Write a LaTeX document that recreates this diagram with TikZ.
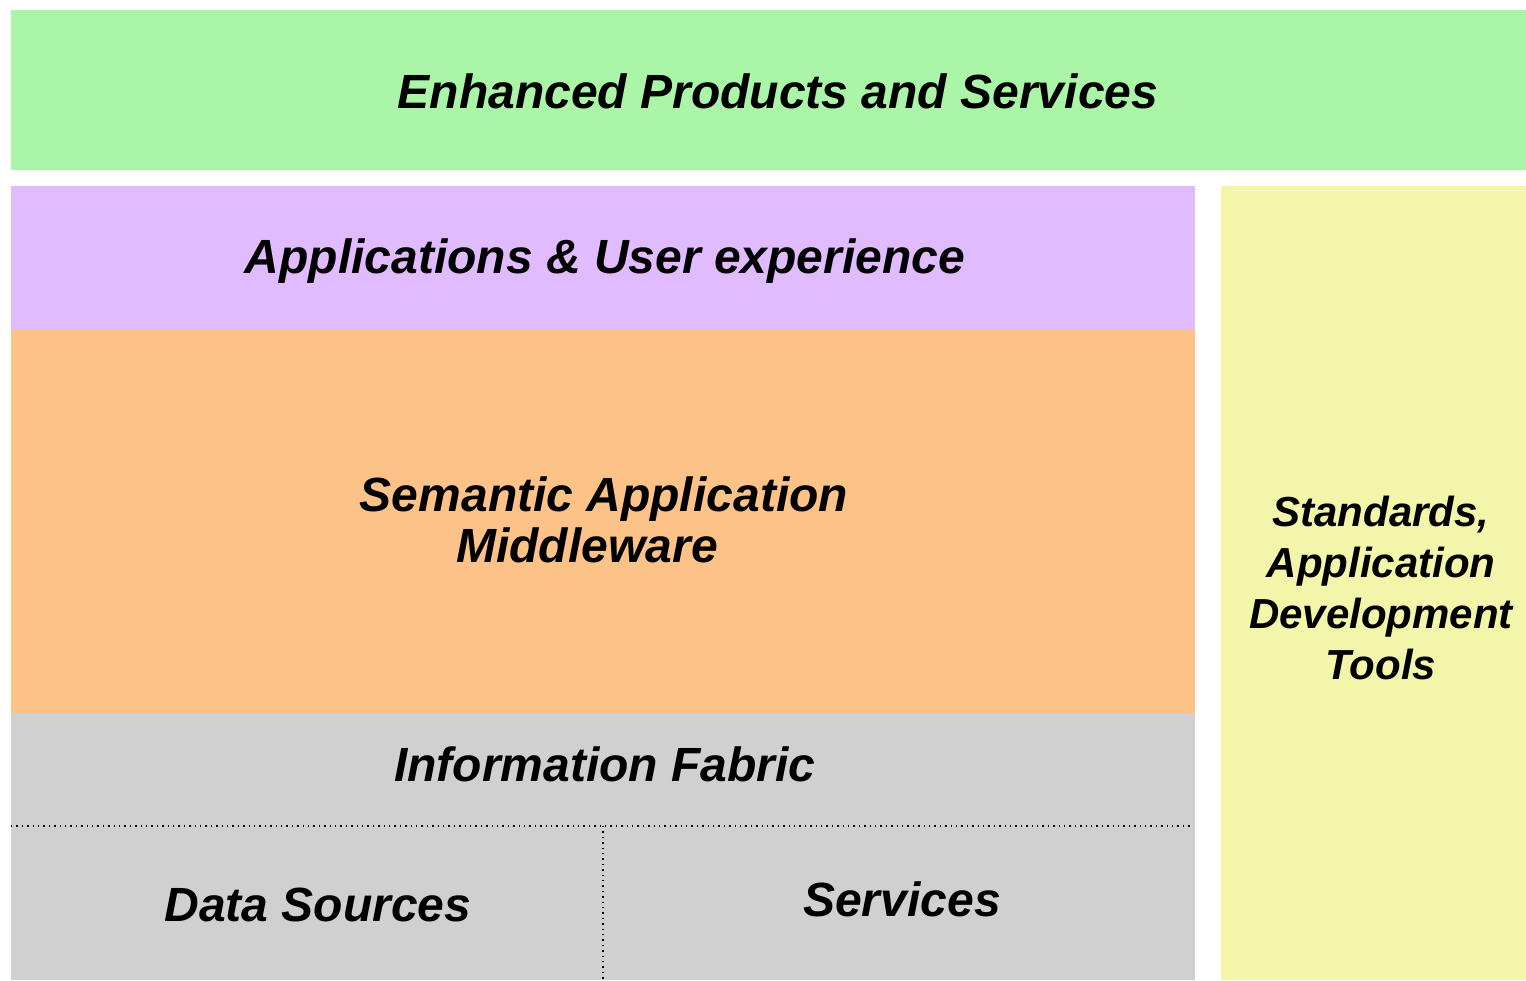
\documentclass[tikz,border=0pt]{standalone}
\usepackage{fontspec}
\setmainfont{Liberation Sans}
\usepackage{tikz}
\usetikzlibrary{positioning}
\definecolor{layergreen}{HTML}{ABF5A9}
\definecolor{layerlilac}{HTML}{E0BBFF}
\definecolor{layerorange}{HTML}{FDC288}
\definecolor{layergrey}{HTML}{D0D0D0}
\definecolor{layeryellow}{HTML}{F2F5AA}

\tikzset{
  layertext/.style={font=\bfseries\itshape\fontsize{24}{25.5}\selectfont,align=center,inner sep=0pt},
  sidetext/.style={font=\bfseries\itshape\fontsize{21}{25.5}\selectfont,align=center,inner sep=0pt},
  divider/.style={line width=0.7pt,dash pattern=on 0.7pt off 2pt}
}

\begin{document}
\begin{tikzpicture}[x=0.5pt,y=-0.5pt]
    \useasboundingbox (0,0) rectangle (1526,980);
    % stack of layers
    \fill[layergreen] (11,10) rectangle (1526,170);
    \fill[layerlilac] (11,186) rectangle (1195,330);
    \fill[layerorange] (11,330) rectangle (1195,713);
    \fill[layergrey] (11,713) rectangle (1195,980);
    \fill[layeryellow] (1221,186) rectangle (1526,980);
    % split of the bottom layer
    \coordinate (splitL) at (11,826);
    \coordinate (splitR) at (1192,826);
    \coordinate (splitM) at (603,826);
    \coordinate (splitB) at (603,980);
    \draw[divider] (splitL) -- (splitR);
    \draw[divider] (splitM) -- (splitB);
    % labels
    \node[layertext] (enhanced) at (778,91) {Enhanced Products and Services};
    \node[layertext] (apps) at (605,261) {Applications \& User experience};
    \node[layertext] (middleware) at (604,520) {Semantic Application\\Middleware\hspace*{17pt}};
    \node[layertext] (fabric) at (605,764) {Information Fabric};
    \node[layertext] (sources) at (318,905) {Data Sources};
    \node[layertext] (services) at (902,899) {Services};
    \node[sidetext] (tools) at (1381,588) {Standards,\\Application\\Development\\Tools};
  \end{tikzpicture}
\end{document}
